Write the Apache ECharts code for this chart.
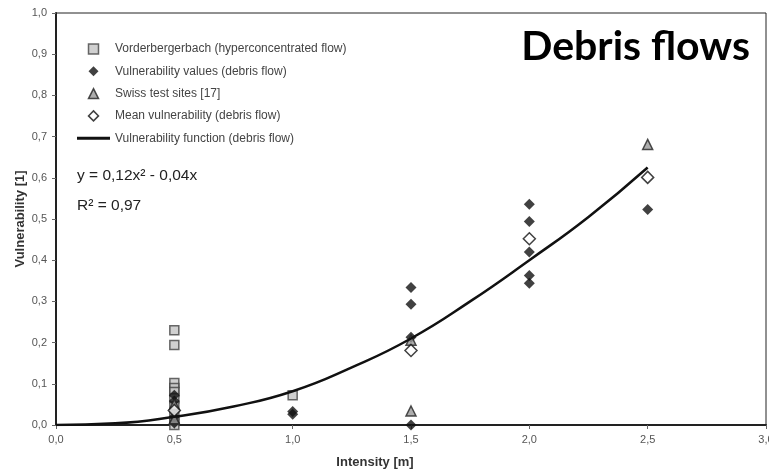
<!DOCTYPE html>
<html>
<head>
<meta charset="utf-8">
<script src="https://cdn.jsdelivr.net/npm/echarts@6/dist/echarts.min.js"></script>
<style>
  html, body { margin: 0; padding: 0; background: #fff; }
  #chart { width: 769px; height: 472px; }
</style>
</head>
<body>
<div id="chart"></div>
<script>
// values: [intensity, vulnerability]
const vorderberger = [[0.5, 0.23], [0.5, 0.194], [0.5, 0.102], [0.5, 0.09], [0.5, 0.08], [0.5, 0.065], [0.5, 0.045], [0.5, 0.025], [0.5, 0.01], [0.5, 0.0], [1.0, 0.072]];
const debrisValues = [[0.5, 0.072], [0.5, 0.058], [0.5, 0.035], [0.5, 0.02], [0.5, 0.005], [1.0, 0.033], [1.0, 0.026], [1.5, 0.334], [1.5, 0.293], [1.5, 0.213], [1.5, 0.0], [2.0, 0.536], [2.0, 0.494], [2.0, 0.42], [2.0, 0.363], [2.0, 0.344], [2.5, 0.523]];
const swissSites = [[0.5, 0.05], [0.5, 0.015], [1.5, 0.206], [1.5, 0.034], [2.5, 0.681]];
const meanVuln = [[0.5, 0.035], [1.5, 0.181], [2.0, 0.452], [2.5, 0.601]];
// fitted curve, sampled from the drawn line
const curveX = [0, 0.25, 0.5, 0.75, 1.0, 1.25, 1.5, 1.75, 2.0, 2.25, 2.5];
const curveY = [0, 0.004, 0.02, 0.045, 0.082, 0.14, 0.21, 0.3, 0.4, 0.505, 0.625];
const xTicks = [0, 0.5, 1.0, 1.5, 2.0, 2.5, 3.0];

const chart = echarts.init(document.getElementById('chart'));
const fmt = v => v.toFixed(1).replace('.', ',');
const labelStyle = { color: '#555', fontSize: 11, fontFamily: 'Liberation Sans' };
const nameStyle = { color: '#333', fontSize: 13, fontWeight: 'bold', fontFamily: 'Liberation Sans' };

const squarePath = 'path://M0,0L10,0L10,10L0,10Z';
const diamondPath = 'path://M5,0L10,5L5,10L0,5Z';
const trianglePath = 'path://M5,0L10,10L0,10Z';
const linePath = 'path://M0,0L33,0L33,3L0,3Z';

const option = {
  backgroundColor: '#fff',
  animation: false,
  title: {
    text: 'Debris flows',
    right: 14,
    top: 21,
    textStyle: { fontFamily: 'Lato', fontWeight: 'bold', fontSize: 41, color: '#000' }
  },
  legend: {
    orient: 'vertical',
    left: 77,
    top: 42,
    padding: 0,
    itemWidth: 33,
    itemHeight: 10,
    itemGap: 8.3,
    symbolKeepAspect: true,
    textStyle: { color: '#444', fontSize: 12, fontFamily: 'Liberation Sans', lineHeight: 14 },
    data: [
      { name: 'Vorderbergerbach (hyperconcentrated flow)', icon: squarePath, itemStyle: { color: '#c4c4c4', borderColor: '#444', borderWidth: 1.5 } },
      { name: 'Vulnerability values (debris flow)', icon: diamondPath, itemStyle: { color: '#111', borderWidth: 0 } },
      { name: 'Swiss test sites [17]', icon: trianglePath, itemStyle: { color: '#999', borderColor: '#222', borderWidth: 1.5 } },
      { name: 'Mean vulnerability (debris flow)', icon: diamondPath, itemStyle: { color: '#fff', borderColor: '#111', borderWidth: 1.5 } },
      { name: 'Vulnerability function (debris flow)', icon: linePath, itemStyle: { color: '#111', borderWidth: 0 } }
    ]
  },
  graphic: [
    {
      type: 'text', left: 77, top: 168,
      style: {
        text: 'y = 0,12x² - 0,04x', fill: '#222', fontSize: 15.5, fontFamily: 'Liberation Sans'
      }
    },
    {
      type: 'text', left: 77, top: 198,
      style: {
        text: 'R² = 0,97', fill: '#222', fontSize: 15.5, fontFamily: 'Liberation Sans'
      }
    }
  ],
  grid: {
    left: 56, right: 3, top: 13, bottom: 47,
    outerBoundsMode: 'none',
    containLabel: false,
    show: true, borderColor: '#222', borderWidth: 1
  },
  xAxis: {
    type: 'value',
    min: xTicks[0],
    max: xTicks[xTicks.length - 1],
    interval: 0.5,
    name: 'Intensity [m]',
    nameLocation: 'middle',
    nameGap: 31,
    nameTextStyle: Object.assign({ padding: [0, 72, 0, 0] }, nameStyle),
    axisLine: { lineStyle: { color: '#222', width: 2 } },
    axisTick: { show: true, length: 4, lineStyle: { color: '#666' } },
    axisLabel: Object.assign({ formatter: fmt, margin: 9 }, labelStyle),
    splitLine: { show: false }
  },
  yAxis: {
    type: 'value',
    min: 0,
    max: 1,
    interval: 0.1,
    name: 'Vulnerability [1]',
    nameLocation: 'middle',
    nameGap: 29,
    nameMoveOverlap: false,
    nameTextStyle: nameStyle,
    axisLine: { show: true, lineStyle: { color: '#222', width: 2 } },
    axisTick: { show: true, length: 4, lineStyle: { color: '#666' } },
    axisLabel: Object.assign({ formatter: fmt, margin: 9 }, labelStyle),
    splitLine: { show: false }
  },
  series: [
    {
      name: 'Vorderbergerbach (hyperconcentrated flow)',
      type: 'scatter',
      symbol: 'rect',
      symbolSize: 9,
      itemStyle: { color: '#c4c4c4', borderColor: '#444', borderWidth: 1.5 },
      data: vorderberger
    },
    {
      name: 'Vulnerability values (debris flow)',
      type: 'scatter',
      symbol: 'diamond',
      symbolSize: 11,
      itemStyle: { color: '#111' },
      data: debrisValues
    },
    {
      name: 'Swiss test sites [17]',
      type: 'scatter',
      symbol: 'triangle',
      symbolSize: 10,
      itemStyle: { color: '#999', borderColor: '#222', borderWidth: 1.5 },
      data: swissSites
    },
    {
      name: 'Mean vulnerability (debris flow)',
      type: 'scatter',
      symbol: 'diamond',
      symbolSize: 12,
      itemStyle: { color: '#fff', borderColor: '#111', borderWidth: 1.5 },
      data: meanVuln
    },
    {
      name: 'Vulnerability function (debris flow)',
      type: 'line',
      smooth: true,
      symbol: 'none',
      lineStyle: { color: '#111', width: 2.5 },
      itemStyle: { color: '#111' },
      z: 5,
      data: curveX.map((x, i) => [x, curveY[i]])
    }
  ]
};
chart.setOption(option);
</script>
</body>
</html>
